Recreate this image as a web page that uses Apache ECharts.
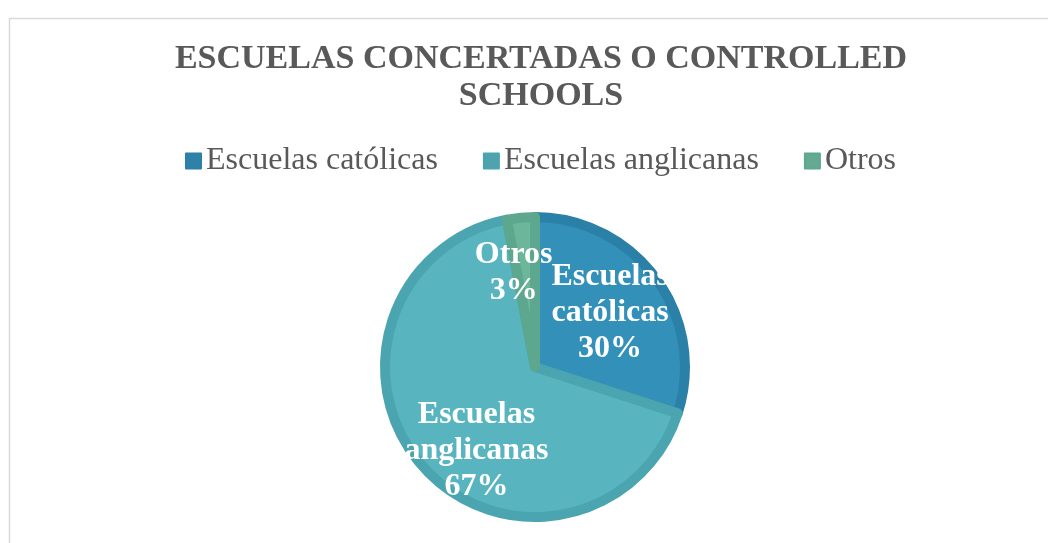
<!DOCTYPE html>
<html>
<head>
<meta charset="utf-8">
<script src="https://cdn.jsdelivr.net/npm/echarts@6/dist/echarts.min.js"></script>
<style>
  html, body { margin: 0; padding: 0; background: #fff; }
  #chart { width: 1048px; height: 543px; }
</style>
</head>
<body>
<div id="chart"></div>
<script>
const titleText = "ESCUELAS CONCERTADAS O CONTROLLED\nSCHOOLS";
const categories = ["Escuelas católicas", "Escuelas anglicanas", "Otros"];
const labelNames = ["Escuelas\ncatólicas", "Escuelas\nanglicanas", "Otros"];
const values = [30, 67, 3];

const fillColors = ["#3391b9", "#58b5c0", "#6cb69c"];
const edgeColors = ["#2b80a7", "#4aa5b0", "#5ca78e"];
const legendColors = ["#2e82a9", "#4fa3ae", "#63aa91"];
// label nudges so the text sits where the original puts it
const labelShift = [[12, -8], [0, 32], [-14, -17]];

const chart = echarts.init(document.getElementById("chart"));

chart.setOption({
  backgroundColor: "#fff",
  animation: false,
  graphic: [
    {
      type: "rect",
      left: 7,
      top: 16,
      shape: { width: 1100, height: 600 },
      style: { fill: "none", stroke: "#d9d9d9", lineWidth: 1.5 },
      silent: true,
    },
  ],
  title: {
    text: titleText,
    left: 536,
    textAlign: "center",
    top: 36,
    textStyle: {
      fontFamily: "Liberation Serif",
      fontWeight: "bold",
      fontSize: 34,
      lineHeight: 37,
      color: "#595959",
    },
  },
  legend: {
    top: 140,
    left: 180,
    itemWidth: 15,
    itemHeight: 15,
    itemGap: 45,
    icon: "rect",
    textStyle: {
      fontFamily: "Liberation Serif",
      fontSize: 32,
      color: "#595959",
    },
    data: categories.map((name, i) => ({
      name: name,
      itemStyle: { color: legendColors[i] },
    })),
  },
  series: [
    {
      type: "pie",
      center: [535, 367],
      radius: [0, 150],
      startAngle: 90,
      clockwise: true,
      avoidLabelOverlap: false,
      itemStyle: {
        borderWidth: 10,
      },
      label: {
        show: true,
        position: "inside",
        color: "#fff",
        fontFamily: "Liberation Serif",
        fontWeight: "bold",
        fontSize: 32,
        lineHeight: 36,
        formatter: (p) => labelNames[p.dataIndex] + "\n" + Math.round(p.percent) + "%",
      },
      labelLayout: (p) => ({
        dx: labelShift[p.dataIndex][0],
        dy: labelShift[p.dataIndex][1],
      }),
      labelLine: { show: false },
      data: categories.map((name, i) => ({
        name: name,
        value: values[i],
        itemStyle: { color: fillColors[i], borderColor: edgeColors[i] },
      })),
    },
  ],
});
</script>
</body>
</html>
